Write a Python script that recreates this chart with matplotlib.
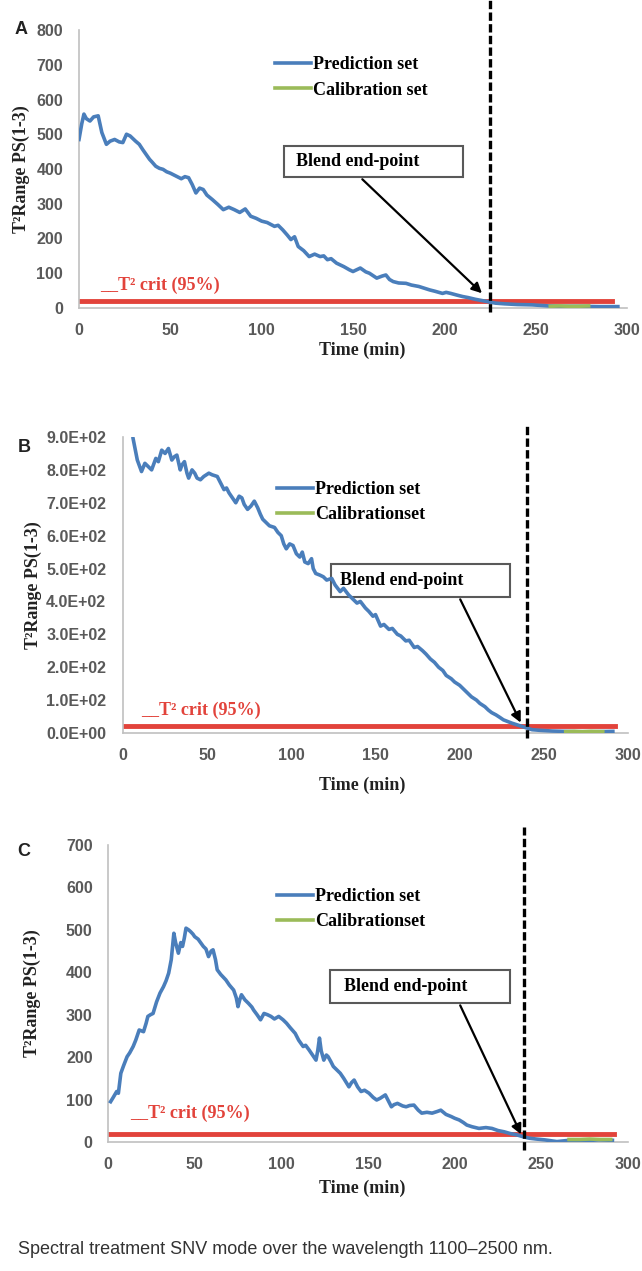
import numpy as np
import matplotlib
matplotlib.use('Agg')
import matplotlib.pyplot as plt
from matplotlib.patches import Rectangle
from matplotlib.ticker import FuncFormatter

# panel A
a_time = [0, 1.5, 2.7, 4, 6, 8, 10.5, 12.5, 15, 17, 19.5, 22, 24, 26, 28, 31, 33, 35, 37, 38.6,
          40, 42, 44, 46, 48, 50, 53, 56, 58, 60, 62, 64, 66, 68, 70, 73, 76, 79, 82, 85,
          88, 91, 94, 97, 100, 103, 107, 109, 111.5, 114, 116, 118, 120, 123, 126, 129, 132, 134, 136, 138,
          141, 143, 145, 148, 150, 152, 154, 157, 159, 161, 163, 166, 168, 170, 172, 175, 179, 182, 186, 189,
          192, 195, 199, 201, 203.5, 207, 210, 213, 217, 220, 224, 228, 233, 240, 248, 257, 265, 275, 285, 295]
a_pred = [485, 530, 558, 545, 538, 550, 553, 505, 471, 480, 485, 478, 476, 500, 495, 480, 471, 455, 440, 428,
          420, 408, 402, 399, 392, 388, 380, 372, 378, 375, 355, 331, 345, 341, 325, 312, 298, 283, 290, 283,
          275, 285, 264, 258, 250, 246, 235, 238, 225, 210, 197, 205, 177, 165, 148, 155, 148, 150, 139, 142,
          129, 124, 119, 110, 105, 110, 115, 104, 100, 93, 86, 92, 95, 82, 76, 72, 71, 66, 62, 57,
          52, 48, 42, 45, 42, 37, 33, 30, 25, 22, 18, 14, 12, 10, 9, 6, 5, 5, 4, 4]
a_cal_time = [258, 263, 268, 273, 279]
a_cal = [5, 6, 5, 5, 6]

# panel B
b_time = [6, 8.5, 11, 13, 15, 17, 19.5, 21, 23, 25, 27, 29, 30.5, 32, 34, 35, 36.5, 38, 39, 41,
          42.6, 44, 46, 48, 51, 53, 56, 58, 60, 61.5, 63, 65, 67, 69, 70.6, 72, 74, 76, 78, 80,
          81.6, 83, 85, 87, 90, 92, 94, 95.5, 97, 99, 101, 103, 105, 106.5, 108, 110, 112, 113, 114.5, 117,
          119, 121, 124, 126, 129, 131, 134, 136, 139, 141, 144, 146, 148.5, 150, 153, 155, 158, 160, 163, 165,
          168, 170, 173, 175, 178, 180, 182.6, 185, 187.5, 190, 192, 195, 197, 200, 202, 205, 207, 210, 212, 215,
          217, 219, 221.6, 224, 226, 229, 231, 234, 237, 240, 243, 248, 255, 262, 270, 280, 291]
b_pred = [895, 830, 795, 820, 810, 800, 835, 825, 860, 850, 865, 830, 840, 845, 800, 815, 825, 790, 775, 800,
          790, 775, 770, 780, 790, 785, 780, 760, 740, 745, 730, 715, 700, 720, 715, 695, 680, 690, 705, 685,
          665, 650, 640, 630, 625, 610, 600, 575, 560, 575, 570, 545, 535, 550, 520, 515, 530, 500, 485, 480,
          475, 465, 470, 450, 430, 440, 420, 410, 395, 400, 380, 370, 355, 360, 325, 330, 315, 318, 300, 295,
          280, 282, 260, 263, 250, 240, 225, 215, 200, 190, 175, 165, 155, 145, 135, 120, 110, 100, 90, 80,
          70, 62, 55, 47, 40, 34, 30, 25, 20, 15, 10, 8, 6, 5, 4, 4, 5]
b_cal_time = [263, 268, 273, 278, 285]
b_cal = [4, 5, 4, 5, 4]

# panel C
c_time = [1.5, 3, 5, 6, 7.4, 9, 11, 12.5, 14.5, 16, 18, 20.5, 22, 23, 24.5, 26, 28, 30, 32, 33.5,
          35, 36.5, 38, 39, 40.6, 42, 43, 44, 45, 46.5, 47.6, 49, 50, 52, 55, 56.5, 58, 59.5, 60.6, 62,
          63, 65, 68, 70, 72.5, 74, 75, 76, 77, 79, 81, 83, 84, 86, 88, 90, 92, 94, 96, 98.5,
          101, 103, 105, 108, 110, 112.6, 114, 116, 118, 120, 121, 122, 123, 124.5, 126, 127, 128.5, 130, 132, 134,
          136, 139, 140.5, 142, 144, 146, 148, 150.6, 153, 155, 157, 160, 162, 163.5, 165, 167, 170, 172, 174, 176.5,
          179, 181, 184, 187, 190, 192, 195, 198, 200, 202.6, 205, 207, 210, 214, 218, 221.5, 225, 228.6, 232, 235.7,
          239, 243, 247, 252, 259, 266, 275, 283, 291]
c_pred = [95, 105, 119, 115, 162, 180, 201, 210, 225, 240, 264, 260, 280, 296, 300, 303, 330, 351, 366, 380,
          398, 430, 492, 470, 445, 470, 461, 480, 504, 500, 496, 490, 484, 478, 461, 455, 437, 450, 453, 430,
          406, 395, 382, 370, 358, 340, 319, 335, 347, 335, 327, 318, 311, 300, 288, 303, 300, 296, 290, 296,
          288, 280, 270, 256, 240, 225, 228, 217, 205, 193, 215, 245, 215, 193, 205, 201, 190, 178, 170, 162,
          150, 130, 140, 146, 130, 119, 122, 115, 105, 99, 103, 111, 95, 83, 88, 91, 85, 83, 86, 87,
          75, 68, 70, 68, 72, 75, 65, 60, 56, 52, 46, 40, 36, 32, 34, 32, 27, 24, 20, 17,
          13, 9, 7, 5, 1, 4, 3, 5, 4]
c_cal_time = [266, 272, 278, 284, 290]
c_cal = [6, 6, 7, 6, 6]

t2_crit = 20
crit_end = 292
x_ticks = [0, 50, 100, 150, 200, 250, 300]

BLUE = '#4a7ebb'
GREEN = '#9bbb59'
RED = '#e2433b'
GRAY = '#595959'
SERIF = 'Liberation Serif'
SANS = 'Liberation Sans'

W, H = 642, 1271
fig = plt.figure(figsize=(W / 100, H / 100), dpi=100)


def add_ax(left, top, right, bottom):
    return fig.add_axes([left / W, 1 - bottom / H, (right - left) / W, (bottom - top) / H])


def panel(ax, t, pred, ct, cal, ymax, end_x, dash_y, box, txt_x, arrow, crit_xy, leg_anchor,
          cal_label, fmt, ypad):
    ax.plot(t, pred, color=BLUE, lw=2.6, zorder=3, label='Prediction set')
    ax.plot(ct, cal, color=GREEN, lw=2.6, zorder=3, label=cal_label)
    ax.plot([0, crit_end], [t2_crit, t2_crit], color=RED, lw=3.5, zorder=2)
    ax.plot([end_x, end_x], dash_y, color='black', lw=2.4, ls=(0, (2.5, 1)),
            clip_on=False, zorder=5)
    x0, y0, x1, y1 = box
    ax.add_patch(Rectangle((x0, y0), x1 - x0, y1 - y0, facecolor='white',
                           edgecolor=GRAY, lw=1.5, zorder=1))
    ax.text(txt_x, (y0 + y1) / 2, 'Blend end-point', family=SERIF, weight='bold',
            fontsize=13, va='center', ha='left', zorder=4)
    ax.annotate('', xy=arrow[1], xytext=arrow[0],
                arrowprops=dict(arrowstyle='-|>', color='black', lw=1.6, mutation_scale=15),
                zorder=6)
    ax.text(crit_xy[0], crit_xy[1], '__T² crit (95%)', family=SERIF, weight='bold',
            fontsize=13, color=RED, va='center', ha='left')

    ax.set_xlim(0, 300)
    ax.set_ylim(0, ymax)
    ax.set_xticks(x_ticks)
    ax.set_yticks(np.arange(0, ymax + 1, 100))
    ax.yaxis.set_major_formatter(fmt)
    ax.tick_params(length=0, labelsize=11.5, labelcolor=GRAY)
    ax.tick_params(axis='x', pad=11)
    ax.tick_params(axis='y', pad=ypad)
    for lab in ax.get_xticklabels() + ax.get_yticklabels():
        lab.set_family(SANS)
        lab.set_weight('bold')
    for s in ['top', 'right']:
        ax.spines[s].set_visible(False)
    for s in ['left', 'bottom']:
        ax.spines[s].set_color('#c0c0c0')
        ax.spines[s].set_linewidth(1.2)
    ax.legend(loc='upper left', bbox_to_anchor=leg_anchor, frameon=False,
              prop=dict(family=SERIF, weight='bold', size=13), handlelength=2.0,
              handletextpad=0.1, labelspacing=0.45, borderpad=0, borderaxespad=0)


plain = FuncFormatter(lambda v, p: '%d' % v)
sci = FuncFormatter(lambda v, p: '%.1E' % v)

ax_a = add_ax(79, 30, 627, 308)
panel(ax_a, a_time, a_pred, a_cal_time, a_cal, 800, 225, [-12, 887],
      (112, 376, 210, 465), 119, ((154, 376), (221.7, 37)), (11.5, 66),
      (0.358, 0.905), 'Calibration set', plain, 11.5)

ax_b = add_ax(123, 437, 628, 733)
panel(ax_b, b_time, b_pred, b_cal_time, b_cal, 900, 240, [-15, 940],
      (123.6, 414, 230, 513), 129, ((199.6, 414), (237, 24)), (10.7, 69),
      (0.305, 0.851), 'Calibrationset', sci, 12)

ax_c = add_ax(108, 845, 628, 1142)
panel(ax_c, c_time, c_pred, c_cal_time, c_cal, 700, 240, [-19, 743],
      (128, 328, 232, 406), 136, ((202.5, 328), (239, 12)), (12.7, 68),
      (0.325, 0.855), 'Calibrationset', plain, 11)

# labels placed in pixels
for letter, lx, ly, ylx, yly, tly in [('A', 21, 30, 21, 169, 350),
                                      ('B', 24, 447, 33, 585, 785),
                                      ('C', 24, 852, 32, 993, 1188)]:
    fig.text(lx / W, 1 - ly / H, letter, family=SANS, weight='bold', fontsize=13,
             ha='center', va='center', color='#222222')
    fig.text(ylx / W, 1 - yly / H, 'T²Range PS(1-3)', family=SERIF, weight='bold',
             fontsize=13, rotation=90, ha='center', va='center', color='#222222')
    fig.text(362 / W, 1 - tly / H, 'Time (min)', family=SERIF, weight='bold',
             fontsize=13, ha='center', va='center', color='#222222')

fig.text(18 / W, 1 - 1250 / H, 'Spectral treatment SNV mode over the wavelength 1100–2500 nm.',
         family=SANS, fontsize=13, ha='left', va='center', color='#333333')

fig.savefig('out.png', dpi=100, facecolor='white')
